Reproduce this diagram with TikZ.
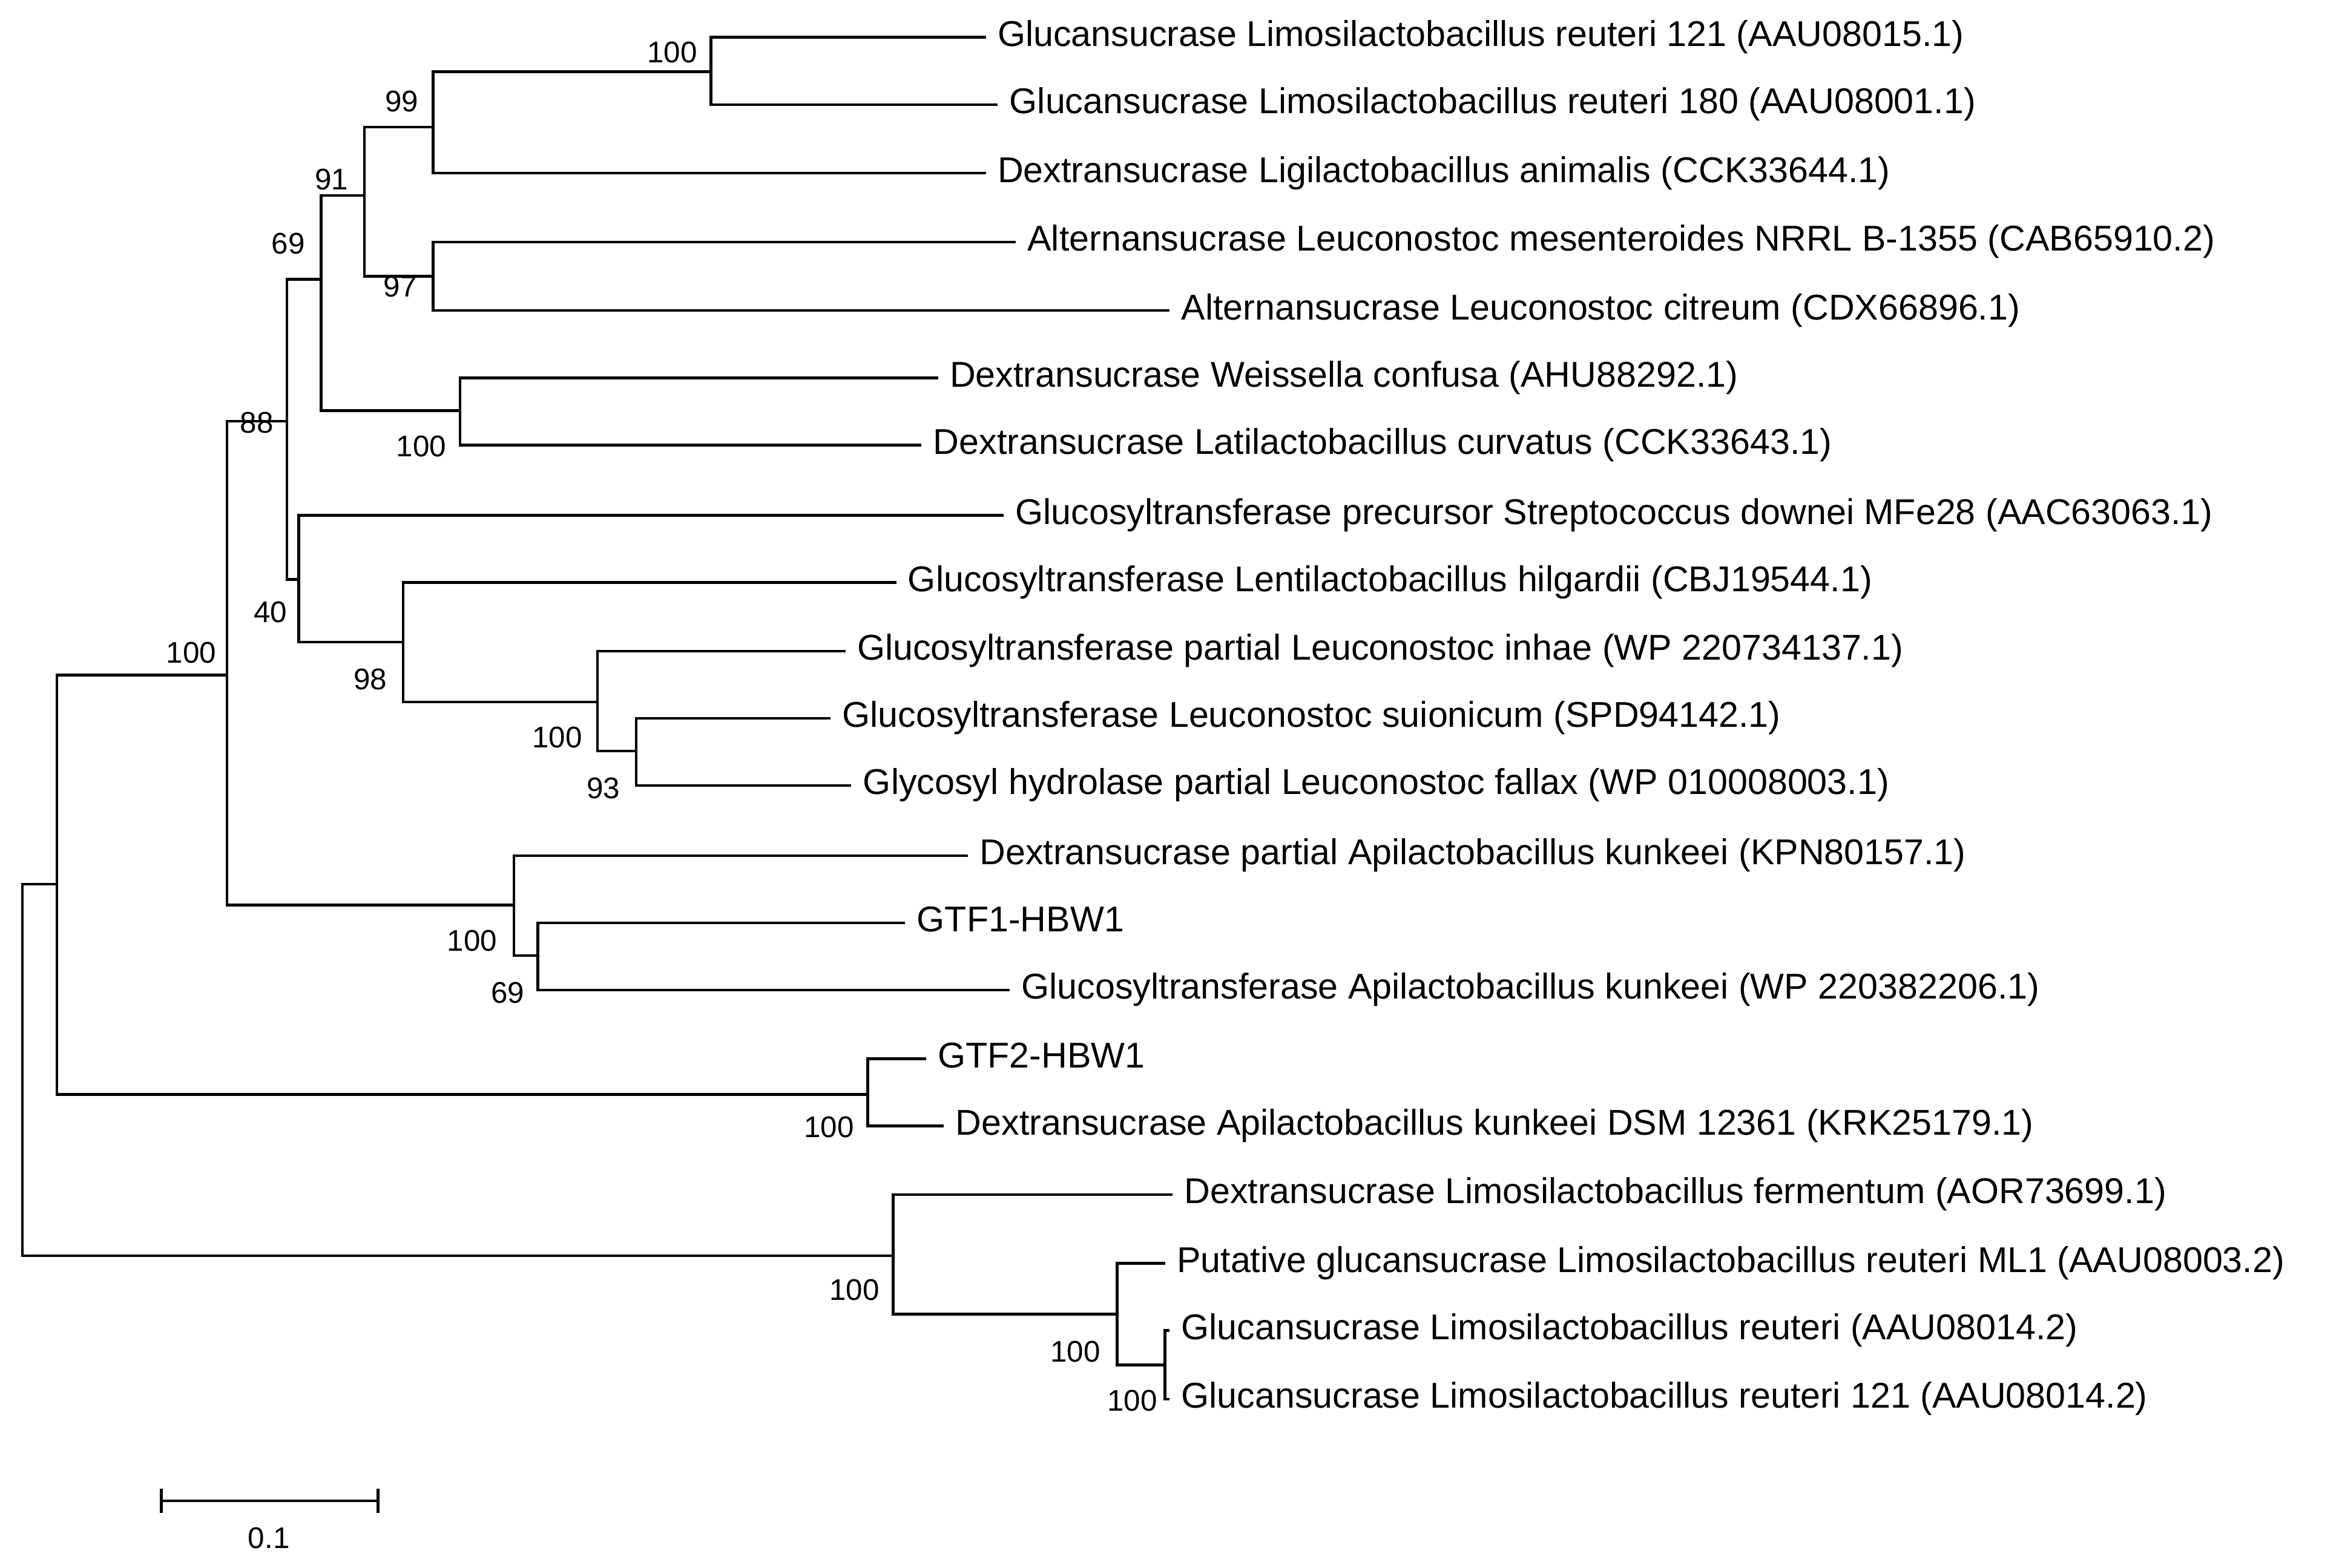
\documentclass[tikz,border=0pt]{standalone}
\usepackage{fontspec}
\setmainfont{Liberation Sans}
\begin{document}
\begin{tikzpicture}[x=1pt,y=-1pt,line width=1.8pt,
 leaf/.style={anchor=west,inner xsep=7pt,inner ysep=0pt,font=\fontsize{24}{26}\selectfont,text height=17pt,text depth=5pt},
 bs/.style={inner sep=0pt,font=\fontsize{20}{22}\selectfont}]
\useasboundingbox (0,0) rectangle (1568,1050);
% internal nodes
\coordinate (root) at (15,716);
\coordinate (A) at (38,592);
\coordinate (B) at (152,452);
\coordinate (C) at (192,282);
\coordinate (E) at (215,187);
\coordinate (G) at (244,131);
\coordinate (I) at (290,85);
\coordinate (K) at (476,48);
\coordinate (J) at (290,185);
\coordinate (H) at (308,275);
\coordinate (F) at (200,388);
\coordinate (L) at (270,430);
\coordinate (M) at (400,470);
\coordinate (N) at (426,503);
\coordinate (D) at (344,606);
\coordinate (O) at (360,640);
\coordinate (T) at (581,733);
\coordinate (P) at (598,841);
\coordinate (Q) at (748,880);
\coordinate (R) at (780,914);
% leaves
\node[leaf] (l1) at (660,25) {Glucansucrase Limosilactobacillus reuteri 121 (AAU08015.1)};
\node[leaf] (l2) at (668,70) {Glucansucrase Limosilactobacillus reuteri 180 (AAU08001.1)};
\node[leaf] (l3) at (660,116) {Dextransucrase Ligilactobacillus animalis (CCK33644.1)};
\node[leaf] (l4) at (680,162) {Alternansucrase Leuconostoc mesenteroides NRRL B-1355 (CAB65910.2)};
\node[leaf] (l5) at (783,208) {Alternansucrase Leuconostoc citreum (CDX66896.1)};
\node[leaf] (l6) at (628,253) {Dextransucrase Weissella confusa (AHU88292.1)};
\node[leaf] (l7) at (617,298) {Dextransucrase Latilactobacillus curvatus (CCK33643.1)};
\node[leaf] (l8) at (672,345) {Glucosyltransferase precursor Streptococcus downei MFe28 (AAC63063.1)};
\node[leaf] (l9) at (600,390) {Glucosyltransferase Lentilactobacillus hilgardii (CBJ19544.1)};
\node[leaf] (l10) at (566,436) {Glucosyltransferase partial Leuconostoc inhae (WP 220734137.1)};
\node[leaf] (l11) at (556,481) {Glucosyltransferase Leuconostoc suionicum (SPD94142.1)};
\node[leaf] (l12) at (570,526) {Glycosyl hydrolase partial Leuconostoc fallax (WP 010008003.1)};
\node[leaf] (l13) at (648,573) {Dextransucrase partial Apilactobacillus kunkeei (KPN80157.1)};
\node[leaf] (l14) at (606,618) {GTF1-HBW1};
\node[leaf] (l15) at (676,663) {Glucosyltransferase Apilactobacillus kunkeei (WP 220382206.1)};
\node[leaf] (l16) at (620,709) {GTF2-HBW1};
\node[leaf] (l17) at (632,754) {Dextransucrase Apilactobacillus kunkeei DSM 12361 (KRK25179.1)};
\node[leaf] (l18) at (785,800) {Dextransucrase Limosilactobacillus fermentum (AOR73699.1)};
\node[leaf] (l19) at (780,846) {Putative glucansucrase Limosilactobacillus reuteri ML1 (AAU08003.2)};
\node[leaf] (l20) at (783,891) {Glucansucrase Limosilactobacillus reuteri (AAU08014.2)};
\node[leaf] (l21) at (783,937) {Glucansucrase Limosilactobacillus reuteri 121 (AAU08014.2)};
% branches
\draw (root) |- (A); \draw (root) |- (P);
\draw (A) |- (B); \draw (A) |- (T);
\draw (B) |- (C); \draw (B) |- (D);
\draw (C) |- (E); \draw (C) |- (F);
\draw (E) |- (G); \draw (E) |- (H);
\draw (G) |- (I); \draw (G) |- (J);
\draw (I) |- (K); \draw (I) |- (l3.west);
\draw (K) |- (l1.west); \draw (K) |- (l2.west);
\draw (J) |- (l4.west); \draw (J) |- (l5.west);
\draw (H) |- (l6.west); \draw (H) |- (l7.west);
\draw (F) |- (l8.west); \draw (F) |- (L);
\draw (L) |- (l9.west); \draw (L) |- (M);
\draw (M) |- (l10.west); \draw (M) |- (N);
\draw (N) |- (l11.west); \draw (N) |- (l12.west);
\draw (D) |- (l13.west); \draw (D) |- (O);
\draw (O) |- (l14.west); \draw (O) |- (l15.west);
\draw (T) |- (l16.west); \draw (T) |- (l17.west);
\draw (P) |- (l18.west); \draw (P) |- (Q);
\draw (Q) |- (l19.west); \draw (Q) |- (R);
\draw (R) |- (l20.west); \draw (R) |- (l21.west);
% bootstrap
\node[bs] (b1) at (450,35) {100};
\node[bs] (b2) at (269,68) {99};
\node[bs] (b3) at (222,120) {91};
\node[bs] (b4) at (268,192) {97};
\node[bs] (b5) at (193,163) {69};
\node[bs] (b6) at (172,283) {88};
\node[bs] (b7) at (282,299) {100};
\node[bs] (b8) at (181,410) {40};
\node[bs] (b9) at (248,455) {98};
\node[bs] (b10) at (373,494) {100};
\node[bs] (b11) at (404,528) {93};
\node[bs] (b12) at (128,437) {100};
\node[bs] (b13) at (316,630) {100};
\node[bs] (b14) at (340,665) {69};
\node[bs] (b15) at (555,755) {100};
\node[bs] (b16) at (572,864) {100};
\node[bs] (b17) at (720,905) {100};
\node[bs] (b18) at (758,938) {100};
% scale bar
\coordinate (s1) at (108,1005); \coordinate (s2) at (253,1005);
\draw (s1) -- (s2);
\draw ([yshift=-8pt]s1) -- ([yshift=8pt]s1);
\draw ([yshift=-8pt]s2) -- ([yshift=8pt]s2);
\node[bs] (sl) at (180,1030) {0.1};
\end{tikzpicture}
\end{document}
